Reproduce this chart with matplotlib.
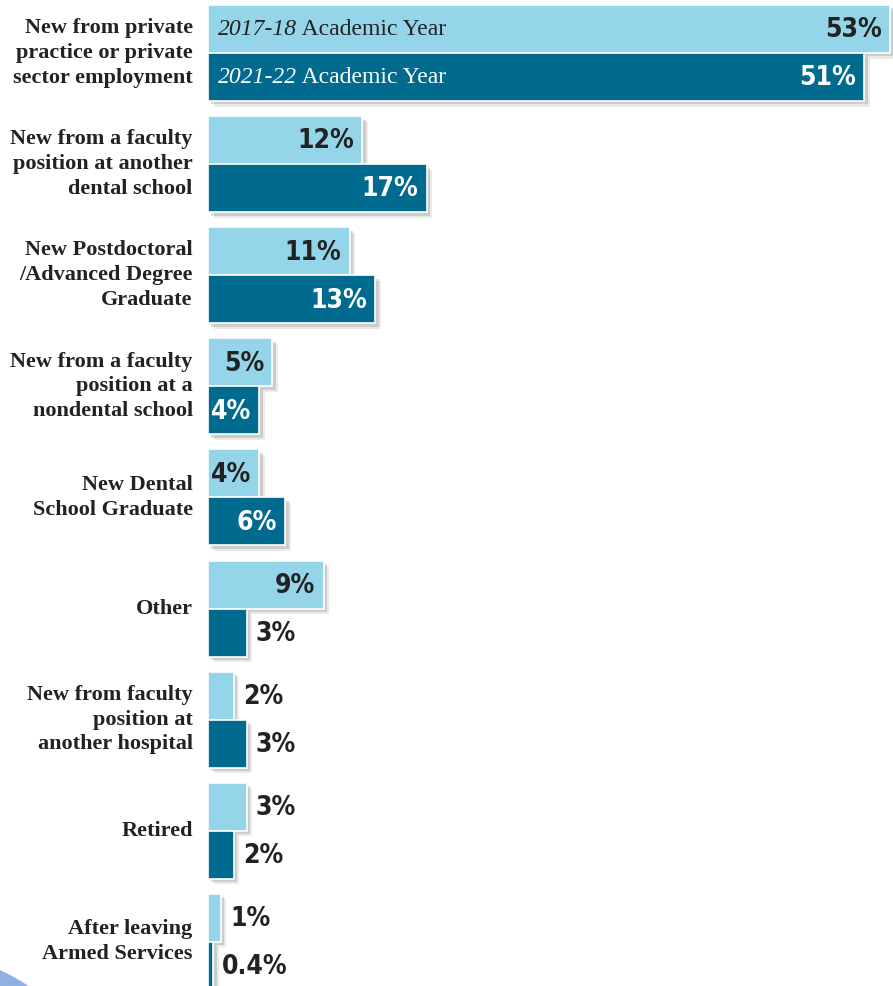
import matplotlib
matplotlib.use('Agg')
import matplotlib.pyplot as plt
import matplotlib.patheffects as pe
from matplotlib.patches import Ellipse

# Kategorien und Werte (in Prozent)
categories = ["New from private\npractice or private\nsector employment",
              "New from a faculty\nposition at another\ndental school",
              "New Postdoctoral\n/Advanced Degree\nGraduate",
              "New from a faculty\nposition at a\nnondental school",
              "New Dental\nSchool Graduate",
              "Other",
              "New from faculty\nposition at\nanother hospital",
              "Retired",
              "After leaving\nArmed Services"]
year1 = [53, 12, 11, 5, 4, 9, 2, 3, 1]
year2 = [51, 17, 13, 4, 6, 3, 3, 2, 0.4]
labels1 = ["53%", "12%", "11%", "5%", "4%", "9%", "2%", "3%", "1%"]
labels2 = ["51%", "17%", "13%", "4%", "6%", "3%", "3%", "2%", "0.4%"]
series_names = ["2017-18", "2021-22"]

light = "#95d5e9"
dark = "#006b8f"

fig = plt.figure(figsize=(8.93, 9.86), dpi=100)
fig.patch.set_facecolor("white")

# blauer Kreis unten links
circ = Ellipse((-90 / 893, 1 - 1165 / 986), 2 * 214 / 893, 2 * 214 / 986,
               transform=fig.transFigure, color="#8fb0e2", zorder=0)
fig.patches.append(circ)

ax = fig.add_axes([208 / 893, 0, 685 / 893, 1])
ax.set_axis_off()
ax.set_xlim(0, 685 / 12.87)
step = 111.1
ax.set_ylim((986 - 53) / step, -53 / step)

h = 48 / step
shadow = [pe.SimplePatchShadow(offset=(4, -4), shadow_rgbFace="#999999", alpha=0.2),
          pe.SimplePatchShadow(offset=(2.5, -2.5), shadow_rgbFace="#888888", alpha=0.3),
          pe.Normal()]

ys = list(range(len(categories)))
b1 = ax.barh([y - h / 2 for y in ys], year1, height=h, color=light, edgecolor="white",
             linewidth=1.2, zorder=3)
b2 = ax.barh([y + h / 2 for y in ys], year2, height=h, color=dark, edgecolor="white",
             linewidth=1.2, zorder=3)
for bar in list(b1) + list(b2):
    bar.set_path_effects(shadow)
    bar.set_clip_on(False)

valfont = dict(family="DejaVu Sans", stretch="condensed", weight="bold", fontsize=19)

for i in ys:
    for vals, labs, off, txtc in ((year1, labels1, -h / 2, "#222222"),
                                  (year2, labels2, h / 2, "white")):
        v = vals[i]
        if v >= 4:
            ax.annotate(labs[i], (v, i + off), xytext=(-6, -1), textcoords="offset points",
                        ha="right", va="center", color=txtc, zorder=5, **valfont)
        else:
            ax.annotate(labs[i], (v, i + off), xytext=(6.5, -1), textcoords="offset points",
                        ha="left", va="center", color="#222222", zorder=5, **valfont)
    ax.annotate(categories[i], (0, i), xytext=(-11, 0), textcoords="offset points",
                ha="right", va="center", family="Liberation Serif", weight="bold",
                fontsize=16, color="#222222", linespacing=1.32)

# Legende in den ersten Balken
for off, name, c in ((-h / 2, series_names[0], "#222222"), (h / 2, series_names[1], "white")):
    t = ax.annotate(name, (0, off), xytext=(7, 0), textcoords="offset points",
                    ha="left", va="center", family="Liberation Serif", style="italic",
                    fontsize=17, color=c, zorder=5)
    ax.annotate(" Academic Year", xycoords=t, xy=(1, 0.5), va="center", ha="left",
                family="Liberation Serif", fontsize=17, color=c, zorder=5)

plt.savefig("out.png", dpi=100, facecolor="white")
